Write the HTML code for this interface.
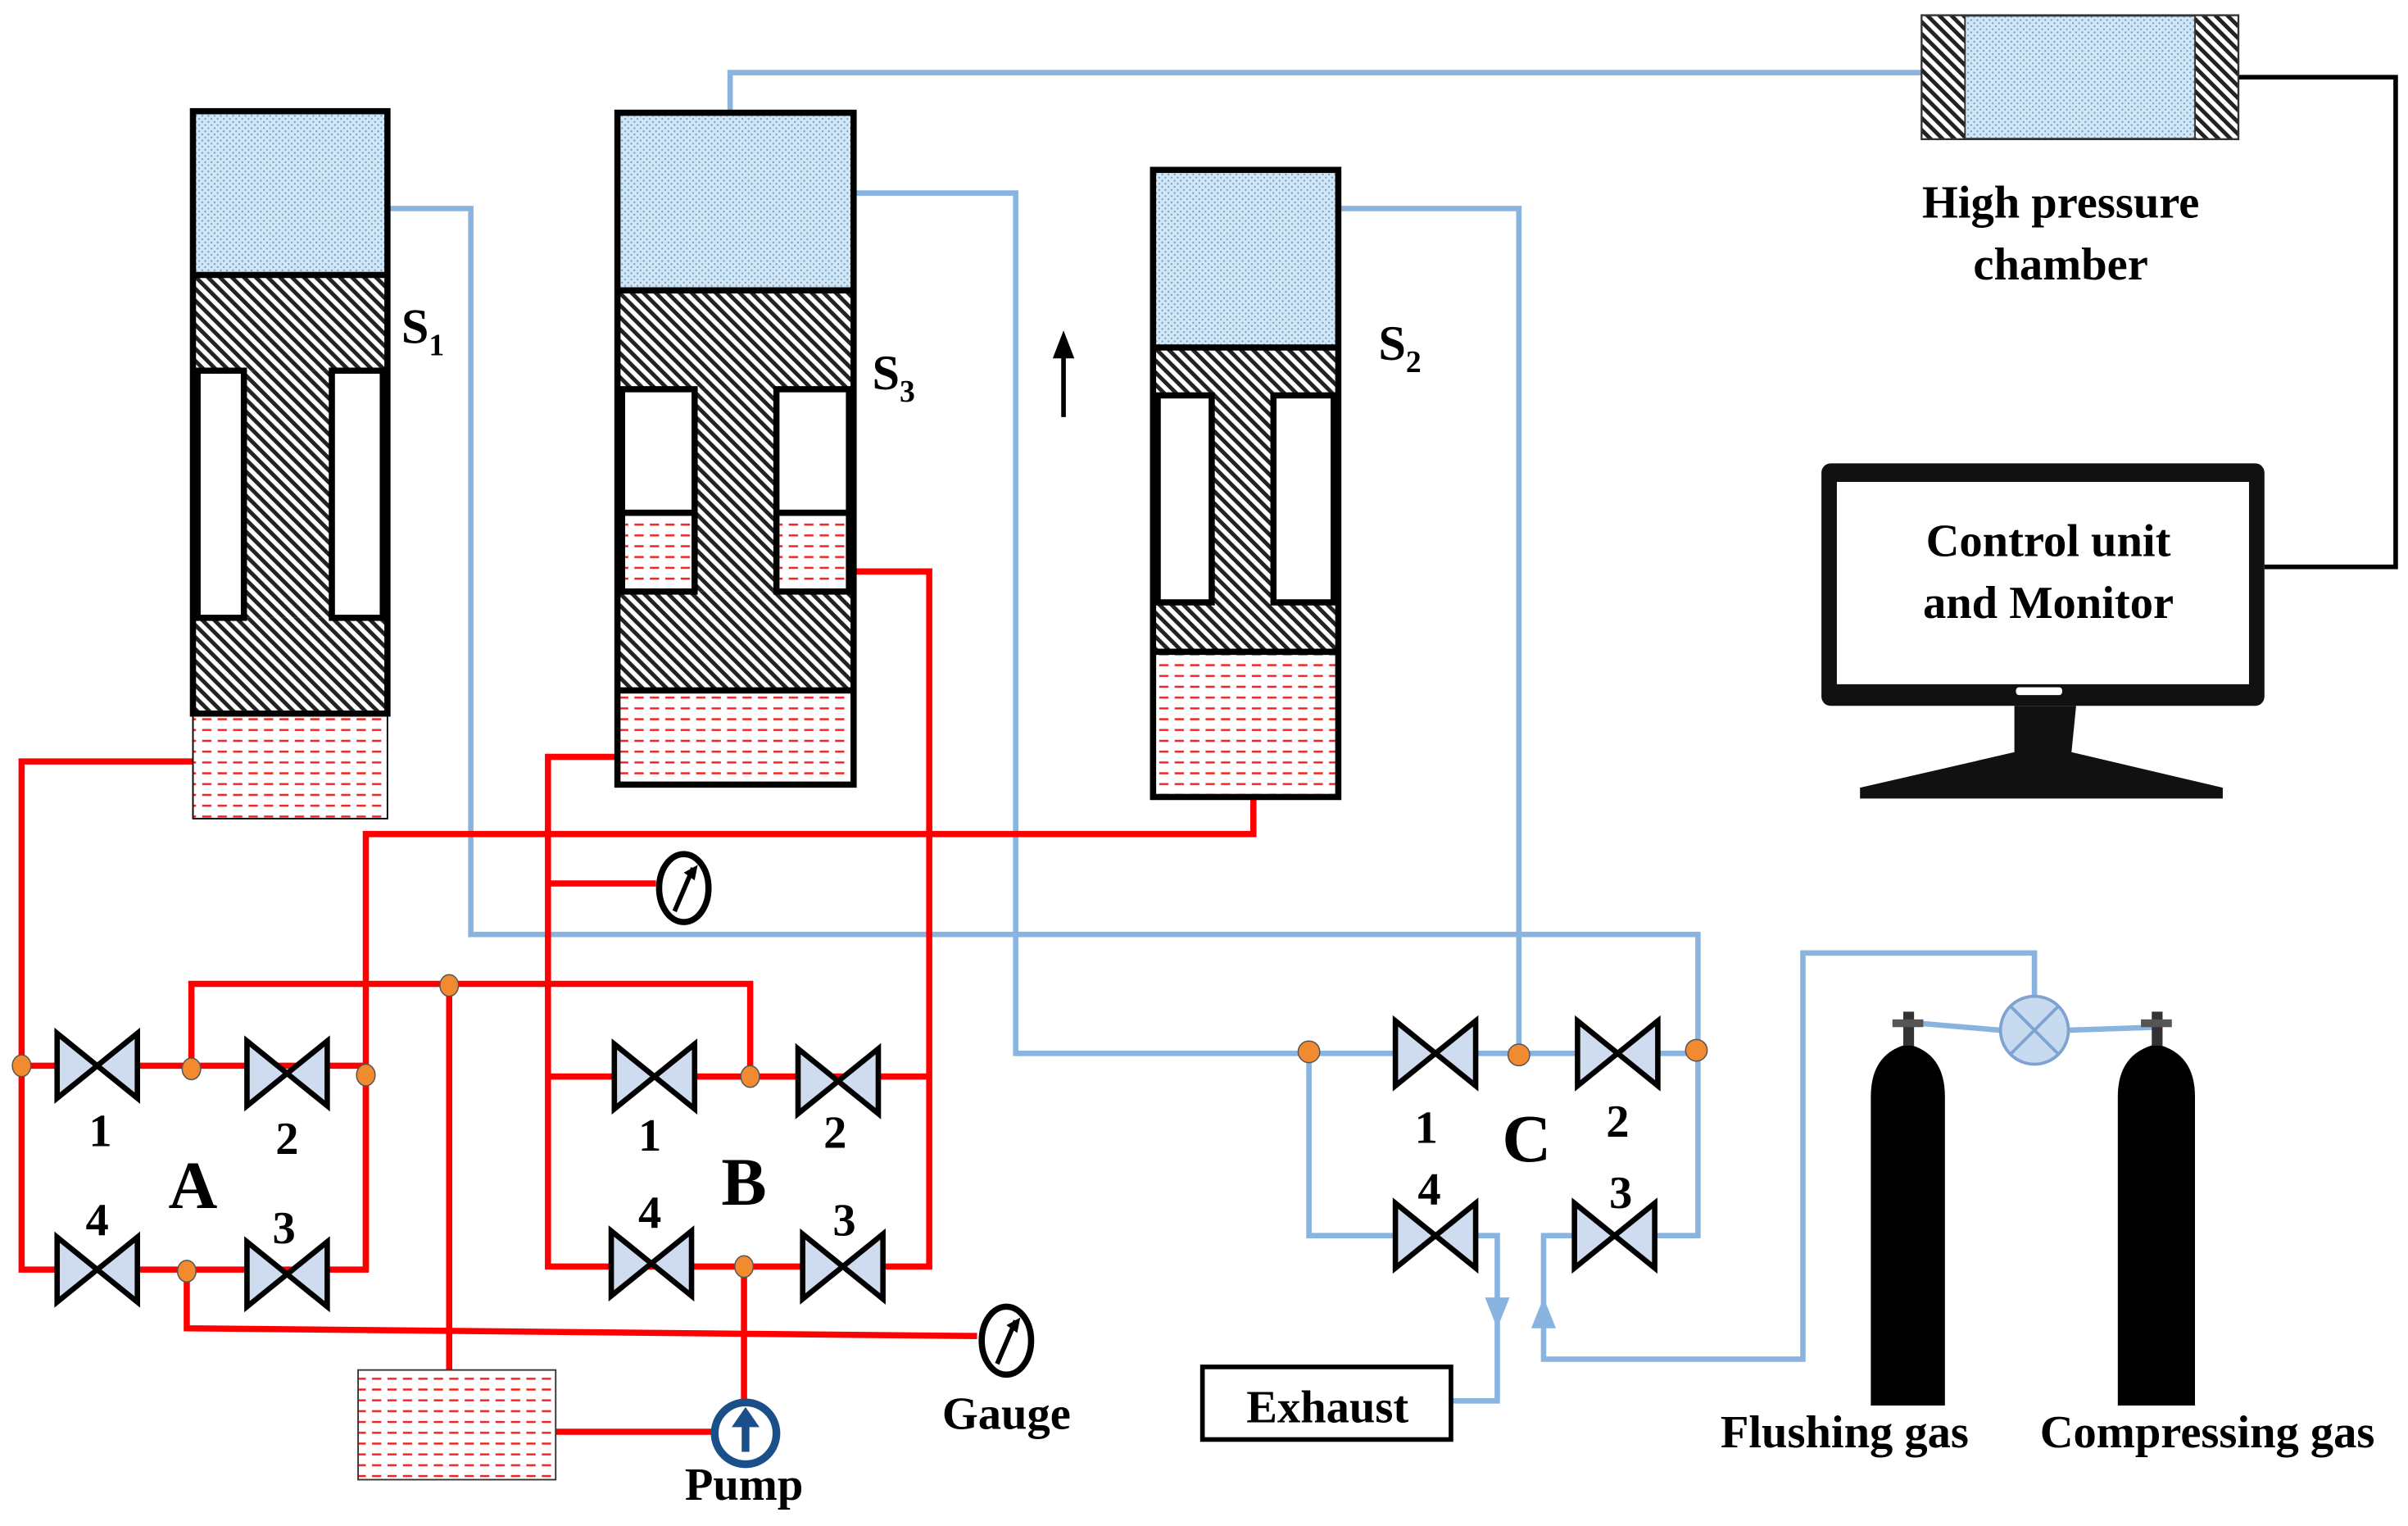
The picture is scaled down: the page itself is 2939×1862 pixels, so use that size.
<!DOCTYPE html>
<html><head><meta charset="utf-8"><style>html,body{margin:0;padding:0;background:#fff}svg{display:block}</style></head><body>
<svg width="2939" height="1862" viewBox="0 0 1560 988" preserveAspectRatio="none" xmlns="http://www.w3.org/2000/svg" style="font-family:'Liberation Serif',serif" font-weight="bold">
<defs>
<pattern id="dots" width="4" height="4" patternUnits="userSpaceOnUse"><rect width="4" height="4" fill="#d3e6f4"/><circle cx="1" cy="1" r="0.6" fill="#6aa0d0"/><circle cx="3" cy="3" r="0.6" fill="#6aa0d0"/></pattern>
<pattern id="hatch" width="5.5" height="5.5" patternUnits="userSpaceOnUse" patternTransform="rotate(-45)"><rect width="5.5" height="5.5" fill="#fff"/><rect width="2.6" height="5.5" fill="#222"/></pattern>
<pattern id="red" width="10" height="7" patternUnits="userSpaceOnUse"><rect width="10" height="7" fill="#fff"/><rect x="1" y="3" width="6" height="1.3" fill="#e22"/></pattern>
<g id="v"><polygon points="-26,-21 0,0 -26,21" fill="#cfdcef" stroke="#000" stroke-width="3.5"/><polygon points="26,-21 0,0 26,21" fill="#cfdcef" stroke="#000" stroke-width="3.5"/></g>
</defs>
<polyline points="1450,50 1552,50 1552,367 1467,367" fill="none" stroke="#000" stroke-width="3"/>
<g fill="none" stroke="#8ab4e0" stroke-width="3.5">
<polyline points="473,73 473,47 1245,47"/>
<polyline points="251,135 305,135 305,605 1100,605 1100,800 1070,800"/>
<polyline points="553,125 658,125 658,682 1100,682"/>
<polyline points="867,135 984,135 984,682"/>
<polyline points="848,682 848,800 970,800 970,907 940,907"/>
<polyline points="1020,800 1000,800 1000,880 1168,880 1168,617 1318,617 1318,645"/>
<polyline points="1296,667 1237,662"/><polyline points="1340,667 1398,665"/>
</g>
<polygon points="962,840 978,840 970,860" fill="#8ab4e0"/>
<polygon points="992,860 1008,860 1000,840" fill="#8ab4e0"/>
<circle cx="1318" cy="667" r="22" fill="#c7daf0" stroke="#7fa3d0" stroke-width="2"/>
<path d="M1303,652 L1333,682 M1333,652 L1303,682" stroke="#7fa3d0" stroke-width="2"/>
<g fill="none" stroke="#f00" stroke-width="4">
<polyline points="125,493 14,493 14,822 237,822 237,540 812,540 812,516"/>
<line x1="14" y1="690" x2="237" y2="690"/><line x1="237" y1="690" x2="237" y2="822"/>
<polyline points="124,690 124,637 486,637 486,697"/>
<line x1="291" y1="637" x2="291" y2="887"/>
<polyline points="121,822 121,860 633,865"/>
<polyline points="360,927 462,927"/>
<polyline points="482,908 482,820"/>
<polyline points="400,490 355,490 355,820 602,820 602,370 553,370"/>
<line x1="355" y1="697" x2="602" y2="697"/>
<line x1="355" y1="572" x2="425" y2="572"/>
</g>
<use href="#v" x="63" y="690"/><use href="#v" x="186" y="695"/><use href="#v" x="63" y="822"/><use href="#v" x="186" y="825"/>
<use href="#v" x="424" y="697"/><use href="#v" x="543" y="700"/><use href="#v" x="422" y="818"/><use href="#v" x="546" y="820"/>
<use href="#v" x="930" y="682"/><use href="#v" x="1048" y="682"/><use href="#v" x="930" y="800"/><use href="#v" x="1046" y="800"/>
<g fill="#f28a30" stroke="#555" stroke-width="0.8">
<ellipse cx="14" cy="690" rx="6" ry="7"/><ellipse cx="124" cy="692" rx="6" ry="7"/><ellipse cx="237" cy="696" rx="6" ry="7"/><ellipse cx="121" cy="823" rx="6" ry="7"/><ellipse cx="291" cy="638" rx="6" ry="7"/>
<ellipse cx="486" cy="697" rx="6" ry="7"/><ellipse cx="482" cy="820" rx="6" ry="7"/>
<ellipse cx="848" cy="681" rx="7" ry="7"/><ellipse cx="984" cy="683" rx="7" ry="7"/><ellipse cx="1099" cy="680" rx="7" ry="7"/>
</g>
<rect x="125" y="72" width="126" height="106" fill="url(#dots)"/>
<rect x="125" y="178" width="126" height="62" fill="url(#hatch)"/>
<rect x="158" y="240" width="57" height="160" fill="url(#hatch)"/>
<rect x="125" y="400" width="126" height="62" fill="url(#hatch)"/>
<rect x="125" y="462" width="126" height="68" fill="url(#red)"/>
<g fill="none" stroke="#000" stroke-width="4"><rect x="125" y="72" width="126" height="390"/><rect x="128" y="240" width="30" height="160"/><rect x="215" y="240" width="33" height="160"/><line x1="125" y1="178" x2="251" y2="178"/></g>
<rect x="125" y="462" width="126" height="68" fill="none" stroke="#000" stroke-width="1"/>
<rect x="400" y="73" width="153" height="115" fill="url(#dots)"/>
<rect x="400" y="188" width="153" height="64" fill="url(#hatch)"/>
<rect x="450" y="252" width="53" height="131" fill="url(#hatch)"/>
<rect x="403" y="332" width="47" height="51" fill="url(#red)"/><rect x="503" y="332" width="47" height="51" fill="url(#red)"/>
<rect x="400" y="383" width="153" height="64" fill="url(#hatch)"/>
<rect x="400" y="447" width="153" height="61" fill="url(#red)"/>
<g fill="none" stroke="#000" stroke-width="4"><rect x="400" y="73" width="153" height="435"/><rect x="403" y="252" width="47" height="131"/><rect x="503" y="252" width="47" height="131"/><line x1="400" y1="188" x2="553" y2="188"/><line x1="403" y1="332" x2="450" y2="332"/><line x1="503" y1="332" x2="550" y2="332"/><line x1="400" y1="447" x2="553" y2="447"/></g>
<rect x="747" y="110" width="120" height="115" fill="url(#dots)"/>
<rect x="747" y="225" width="120" height="31" fill="url(#hatch)"/>
<rect x="785" y="256" width="40" height="134" fill="url(#hatch)"/>
<rect x="747" y="390" width="120" height="32" fill="url(#hatch)"/>
<rect x="747" y="422" width="120" height="94" fill="url(#red)"/>
<g fill="none" stroke="#000" stroke-width="4"><rect x="747" y="110" width="120" height="406"/><rect x="750" y="256" width="35" height="134"/><rect x="825" y="256" width="39" height="134"/><line x1="747" y1="225" x2="867" y2="225"/><line x1="747" y1="422" x2="867" y2="422"/></g>
<line x1="689" y1="270" x2="689" y2="228" stroke="#000" stroke-width="3"/><polygon points="682,232 696,232 689,214" fill="#000"/>
<rect x="1245" y="10" width="205" height="80" fill="url(#dots)" stroke="#333" stroke-width="1.5"/>
<rect x="1245" y="10" width="28" height="80" fill="url(#hatch)" stroke="#333"/><rect x="1422" y="10" width="28" height="80" fill="url(#hatch)" stroke="#333"/>
<rect x="1180" y="300" width="287" height="157" rx="6" fill="#111"/>
<rect x="1190" y="312" width="267" height="131" fill="#fff"/>
<rect x="1306" y="445" width="30" height="5" rx="2" fill="#fff"/>
<path d="M1305,457 L1345,457 L1342,487 L1440,510 L1440,517 L1205,517 L1205,510 L1305,487 Z" fill="#111"/>
<rect x="232" y="887" width="128" height="71" fill="url(#red)" stroke="#333" stroke-width="1"/>
<circle cx="483" cy="928" r="20" fill="#fff" stroke="#1a4f8a" stroke-width="5"/>
<path d="M483,940 L483,922" stroke="#1a4f8a" stroke-width="5"/><polygon points="474,924 492,924 483,911" fill="#1a4f8a"/>
<ellipse cx="443" cy="575" rx="16" ry="22" fill="#fff" stroke="#000" stroke-width="4"/><path d="M437,590 L449,562" stroke="#000" stroke-width="3"/><polygon points="443,565 452,560 450,570" fill="#000"/>
<ellipse cx="652" cy="868" rx="16" ry="22" fill="#fff" stroke="#000" stroke-width="4"/><path d="M646,883 L658,855" stroke="#000" stroke-width="3"/><polygon points="652,858 661,853 659,863" fill="#000"/>
<path d="M1212,910 L1212,710 Q1212,682 1236,676 Q1260,682 1260,710 L1260,910 Z" fill="#000"/>
<path d="M1372,910 L1372,710 Q1372,682 1397,676 Q1422,682 1422,710 L1422,910 Z" fill="#000"/>
<rect x="1233" y="655" width="7" height="22" fill="#333"/><rect x="1226" y="660" width="20" height="5" fill="#555"/>
<rect x="1394" y="655" width="7" height="22" fill="#333"/><rect x="1387" y="660" width="20" height="5" fill="#555"/>
<rect x="779" y="885" width="161" height="47" fill="#fff" stroke="#000" stroke-width="3"/>
<g fill="#000" font-size="30">
<text x="860" y="921" text-anchor="middle">Exhaust</text>
<text x="1335" y="141" text-anchor="middle">High pressure</text>
<text x="1335" y="181" text-anchor="middle">chamber</text>
<text x="1327" y="360" text-anchor="middle">Control unit</text>
<text x="1327" y="400" text-anchor="middle">and Monitor</text>
<text x="652" y="925" text-anchor="middle">Gauge</text>
<text x="482" y="971" text-anchor="middle">Pump</text>
<text x="1195" y="937" text-anchor="middle">Flushing gas</text>
<text x="1430" y="937" text-anchor="middle">Compressing gas</text>
<text x="260" y="222" font-size="32">S<tspan font-size="20" dy="8">1</tspan></text>
<text x="565" y="252" font-size="32">S<tspan font-size="20" dy="8">3</tspan></text>
<text x="893" y="233" font-size="32">S<tspan font-size="20" dy="8">2</tspan></text>
</g>
<g fill="#000" font-size="30" text-anchor="middle">
<text x="65" y="742">1</text><text x="186" y="747">2</text><text x="63" y="800">4</text><text x="184" y="805">3</text>
<text x="421" y="745">1</text><text x="541" y="743">2</text><text x="421" y="795">4</text><text x="547" y="800">3</text>
<text x="924" y="740">1</text><text x="1048" y="736">2</text><text x="926" y="780">4</text><text x="1050" y="782">3</text>
<text x="125" y="782" font-size="44">A</text><text x="482" y="780" font-size="44">B</text><text x="989" y="752" font-size="44">C</text>
</g>
</svg>
</body></html>
